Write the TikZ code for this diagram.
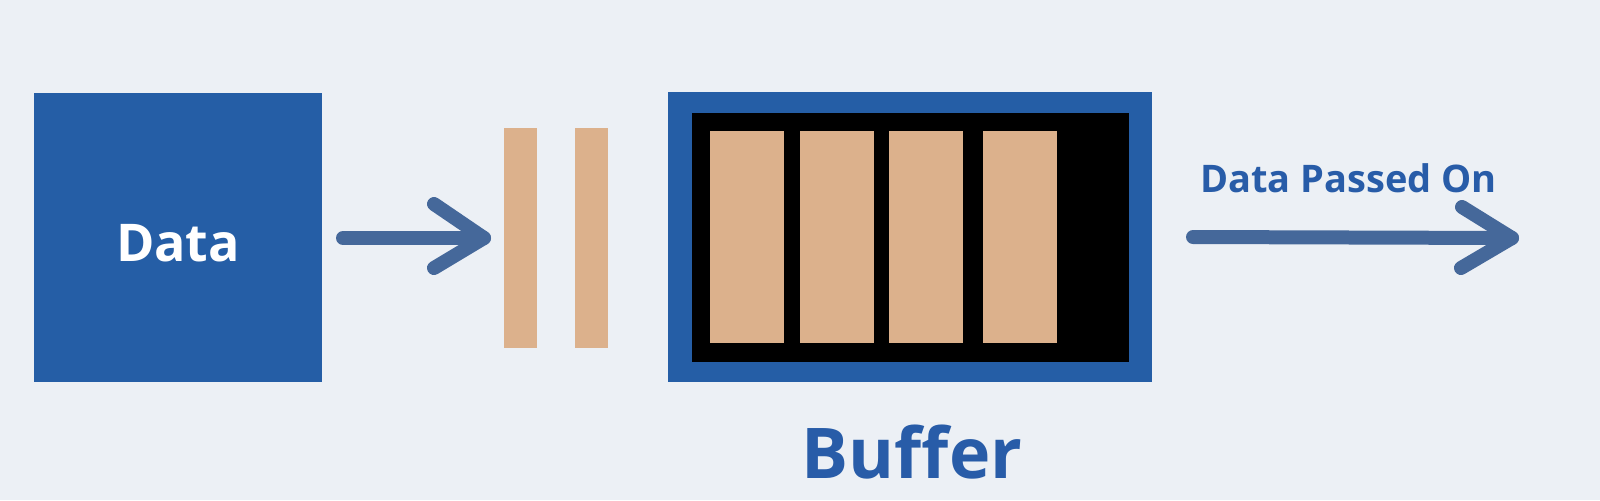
\documentclass[tikz,border=0pt]{standalone}
\usepackage{fontspec}
\setmainfont{Open Sans}
\usetikzlibrary{calc}
\definecolor{bg}{RGB}{236,240,245}
\definecolor{boxblue}{RGB}{37,94,166}
\definecolor{txtblue}{RGB}{40,92,168}
\definecolor{arrblue}{RGB}{69,104,154}
\definecolor{tan}{RGB}{220,177,140}
\tikzset{
  blk/.style={inner sep=0pt, outer sep=0pt, draw=none},
  cell/.style={blk, fill=tan, minimum width=37pt, minimum height=106pt},
  bar/.style={blk, fill=tan, minimum width=16.5pt, minimum height=110pt},
  arr/.style={draw=arrblue, line width=7pt, line cap=round, line join=round},
}
\begin{document}
\begin{tikzpicture}[x=0.5pt,y=-0.5pt]
\fill[bg] (0,0) rectangle (1600,500);
\useasboundingbox (0,0) rectangle (1600,500);
% Data box
\node[blk, fill=boxblue, minimum width=144pt, minimum height=144.5pt] (data) at (178,237.5) {};
\node[anchor=base, text=white, font=\bfseries\fontsize{26}{30}\selectfont] (datalbl) at (178,261) {Data};
% bars
\node[bar] (bar1) at (520,238) {};
\node[bar] (bar2) at (591.5,238) {};
% buffer
\node[blk, fill=boxblue, minimum width=242pt, minimum height=145pt] (buf) at (910,237) {};
\node[blk, fill=black, minimum width=218.5pt, minimum height=124.5pt] (bufin) at (910.5,237.5) {};
\node[cell] (c1) at (747,237) {};
\node[cell] (c2) at (836.5,237) {};
\node[cell] (c3) at (926,237) {};
\node[cell] (c4) at (1019.5,237) {};
\node[anchor=base, text=txtblue, font=\bfseries\fontsize{35}{40}\selectfont] (buflbl) at (912,478) {Buffer};
% arrows
\coordinate (a1s) at (343,238);
\coordinate (a1e) at (484,238);
\draw[arr] (a1s) -- (a1e);
\draw[arr] ($(a1e)+(-50,-34)$) -- (a1e) -- ($(a1e)+(-50,30)$);
\coordinate (a2s) at (1193,237);
\coordinate (a2e) at (1512,238);
\draw[arr] (a2s) -- (a2e);
\draw[arr] ($(a2e)+(-50,-31)$) -- (a2e) -- ($(a2e)+(-51,30)$);
\node[anchor=base, text=txtblue, font=\bfseries\fontsize{19}{22}\selectfont] (passlbl) at (1348.5,192) {Data Passed On};
\end{tikzpicture}
\end{document}
